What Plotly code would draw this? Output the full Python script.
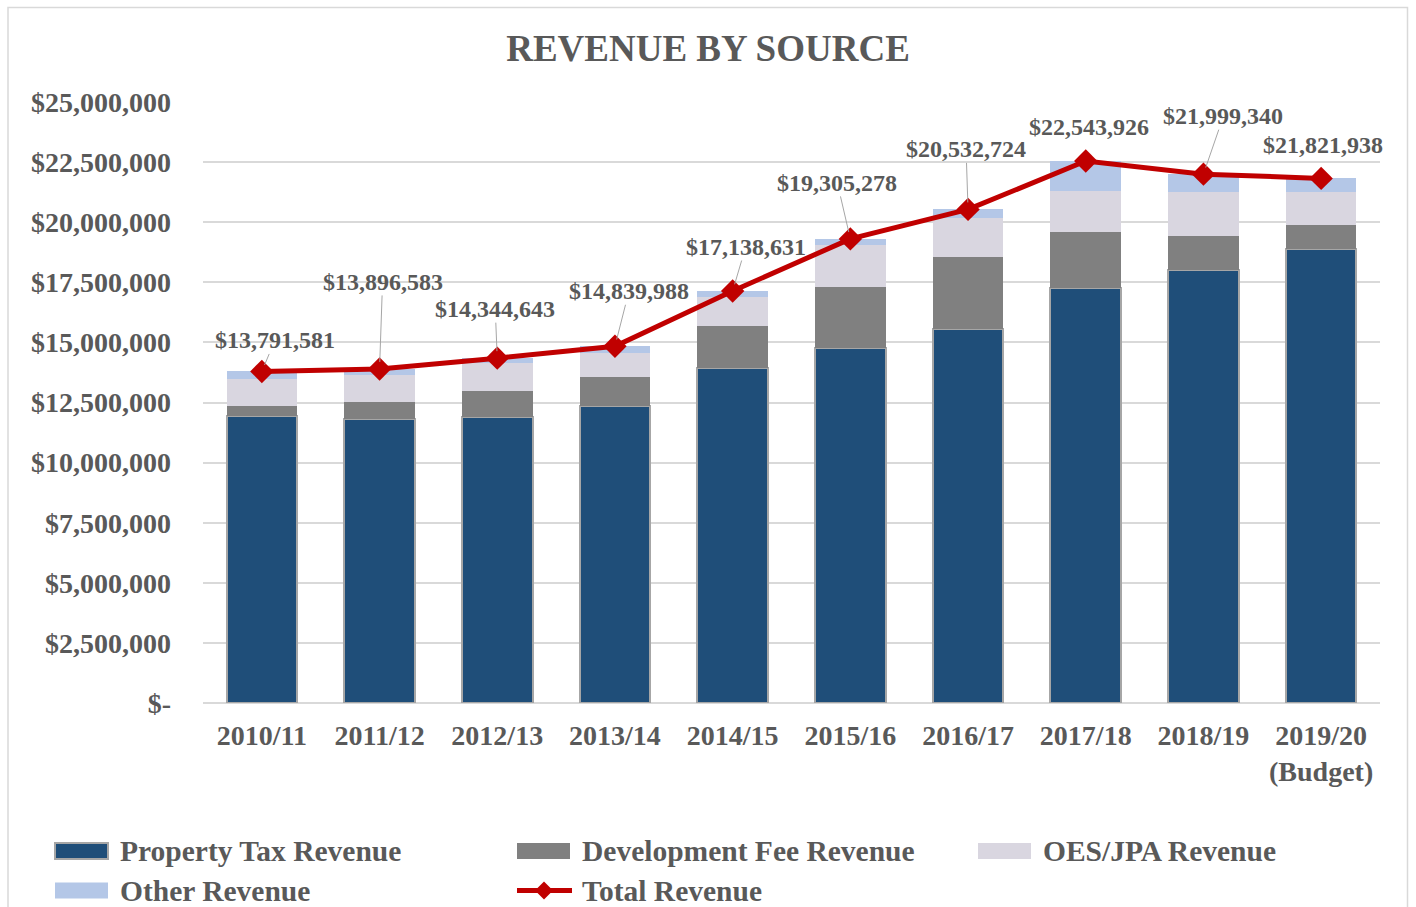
import plotly.graph_objects as go

# ---------------- data ----------------
categories = ["2010/11", "2011/12", "2012/13", "2013/14", "2014/15",
              "2015/16", "2016/17", "2017/18", "2018/19", "2019/20"]
tick_labels = ["2010/11", "2011/12", "2012/13", "2013/14", "2014/15",
               "2015/16", "2016/17", "2017/18", "2018/19", "2019/20<br>(Budget)"]

property_tax = [11950000, 11810000, 11880000, 12350000, 13920000,
                14780000, 15560000, 17280000, 18000000, 18870000]
development_fee = [400000, 720000, 1080000, 1220000, 1760000,
                   2510000, 3000000, 2320000, 1430000, 1010000]
oes_jpa = [1120000, 1110000, 1190000, 1000000, 1220000,
           1760000, 1610000, 1710000, 1820000, 1390000]
other = [320000, 260000, 190000, 270000, 240000,
         260000, 360000, 1230000, 750000, 550000]
total = [13791581, 13896583, 14344643, 14839988, 17138631,
         19305278, 20532724, 22543926, 21999340, 21821938]

y_tick_values = [0, 2500000, 5000000, 7500000, 10000000, 12500000,
                 15000000, 17500000, 20000000, 22500000, 25000000]
y_tick_labels = ["$-", "$2,500,000", "$5,000,000", "$7,500,000", "$10,000,000",
                 "$12,500,000", "$15,000,000", "$17,500,000", "$20,000,000",
                 "$22,500,000", "$25,000,000"]

series_names = ["Property Tax Revenue", "Development Fee Revenue",
                "OES/JPA Revenue", "Other Revenue", "Total Revenue"]

# label offsets (pixels) for total labels
label_dx = [13, 3, -2, 14, 13, -13, -2, 3, 20, 2]
label_dy = [-31, -87, -49, -55, -44, -56, -60, -34, -58, -33]
leader = [True, True, True, True, True, True, True, False, True, False]

# ---------------- styles ----------------
FONT = "Liberation Serif, Times New Roman, serif"
TEXT = "#595959"
C_PT = "#1F4E79"
C_DEV = "#808080"
C_OES = "#D9D6E0"
C_OTH = "#B4C7E7"
C_TOT = "#C00000"
C_GRID = "#D9D9D9"
C_EDGE = "#A6A6A6"

W, H = 1416, 907
L, R, T, B = 203, 36, 102, 204
PW = W - L - R
PH = H - T - B


def px(x):
    return (x - L) / PW


def py(y):
    return (T + PH - y) / PH


fig = go.Figure()
fig.add_trace(go.Bar(x=categories, y=property_tax, name=series_names[0],
                     marker=dict(color=C_PT, line=dict(color=C_EDGE, width=2))))
fig.add_trace(go.Bar(x=categories, y=development_fee, name=series_names[1],
                     marker=dict(color=C_DEV, line=dict(width=0))))
fig.add_trace(go.Bar(x=categories, y=oes_jpa, name=series_names[2],
                     marker=dict(color=C_OES, line=dict(width=0))))
fig.add_trace(go.Bar(x=categories, y=other, name=series_names[3],
                     marker=dict(color=C_OTH, line=dict(width=0))))
fig.add_trace(go.Scatter(x=categories, y=total, name=series_names[4],
                         mode="lines+markers",
                         line=dict(color=C_TOT, width=5),
                         marker=dict(symbol="diamond", size=18, color=C_TOT)))

annotations = []
for c, v, dx, dy, ld in zip(categories, total, label_dx, label_dy, leader):
    txt = f"${v:,}"
    f = dict(family=FONT, size=24, color=TEXT, weight="bold")
    if ld:
        annotations.append(dict(x=c, y=v, ax=dx, ay=dy, text=txt, font=f,
                                showarrow=True, arrowhead=0, arrowwidth=1,
                                arrowcolor=C_EDGE, standoff=7, borderpad=0))
    else:
        annotations.append(dict(x=c, y=v, xshift=dx, yshift=-dy, text=txt, font=f,
                                showarrow=False, xanchor="center", yanchor="middle"))

# ---------------- manual legend ----------------
shapes = []
col_x = [55, 517, 978]
row_y = [851, 890.5]
sw_w, sw_h = 53, 16
legend_pos = [(0, 0), (1, 0), (2, 0), (0, 1), (1, 1)]
legend_fill = [C_PT, C_DEV, C_OES, C_OTH, None]
for name, (ci, ri), fill in zip(series_names, legend_pos, legend_fill):
    x0 = col_x[ci]
    yc = row_y[ri]
    if fill is not None:
        shapes.append(dict(type="rect", xref="paper", yref="paper",
                           x0=px(x0), x1=px(x0 + sw_w),
                           y0=py(yc + sw_h / 2), y1=py(yc - sw_h / 2),
                           fillcolor=fill,
                           line=dict(color=C_EDGE if fill == C_PT else fill,
                                     width=2 if fill == C_PT else 0)))
    else:
        shapes.append(dict(type="line", xref="paper", yref="paper",
                           x0=px(x0), x1=px(x0 + 55), y0=py(yc), y1=py(yc),
                           line=dict(color=C_TOT, width=5)))
        cx = x0 + 27
        d = 9
        path = (f"M {px(cx - d)},{py(yc)} L {px(cx)},{py(yc - d)} "
                f"L {px(cx + d)},{py(yc)} L {px(cx)},{py(yc + d)} Z")
        shapes.append(dict(type="path", xref="paper", yref="paper", path=path,
                           fillcolor=C_TOT, line=dict(color=C_TOT, width=0)))
    annotations.append(dict(xref="paper", yref="paper", x=px(x0 + 63), y=py(yc),
                            text=name, showarrow=False, xanchor="left",
                            yanchor="middle",
                            font=dict(family=FONT, size=29.5, color=TEXT, weight="bold")))

# outer border
shapes.append(dict(type="rect", xref="paper", yref="paper", layer="below",
                   x0=px(8), x1=px(1407.5), y0=py(H + 20), y1=py(7.5),
                   line=dict(color=C_GRID, width=1.5), fillcolor="rgba(0,0,0,0)"))

fig.update_layout(
    width=W, height=H,
    margin=dict(l=L, r=R, t=T, b=B),
    paper_bgcolor="white", plot_bgcolor="white",
    barmode="stack", bargap=0.4,
    showlegend=False,
    title=dict(text="REVENUE BY SOURCE", x=0.5, xanchor="center",
               y=1 - 48 / H, yanchor="middle", yref="container",
               font=dict(family=FONT, size=37, color=TEXT, weight="bold")),
    xaxis=dict(tickvals=categories, ticktext=tick_labels, showgrid=False,
               range=[-0.5, len(categories) - 0.5],
               showline=False, ticks="", ticklabelstandoff=13,
               tickfont=dict(family=FONT, size=28, color=TEXT, weight="bold")),
    yaxis=dict(range=[0, 25000000], tickvals=y_tick_values, ticktext=y_tick_labels,
               showgrid=True, gridcolor=C_GRID, gridwidth=1.5,
               zeroline=True, zerolinecolor=C_GRID, zerolinewidth=1.5,
               showline=False, ticks="", ticklabelstandoff=31,
               tickfont=dict(family=FONT, size=28, color=TEXT, weight="bold")),
    annotations=annotations,
    shapes=shapes,
)

fig.write_html("out.html",
               config={"displayModeBar": False},
               post_script="document.body.style.margin='0';"
                           "document.body.style.overflow='hidden';")
